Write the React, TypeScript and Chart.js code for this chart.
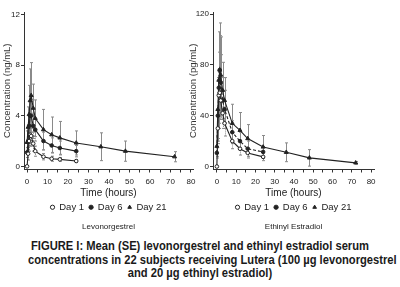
import React, { useEffect, useRef } from 'react';
import { Chart, registerables } from 'chart.js';

Chart.register(...registerables);

// Sampling times (hours after dose)
const HOURS = [0, 0.5, 1, 1.5, 2, 3, 4, 8, 12, 16, 24];
const HOURS_DAY21 = [0, 0.5, 1, 1.5, 2, 3, 4, 8, 12, 16, 24, 36, 48, 72];

// Axis ticks
const X_TICKS = [0, 5, 10, 15, 20, 25, 30, 35, 40, 45, 50, 55, 60, 65, 70, 75, 80];
const X_LABELED = [0, 10, 20, 30, 40, 50, 60, 70, 80];
const LNG_Y_TICKS = [0, 4, 8, 12];
const EE_Y_TICKS = [0, 40, 80, 120];

// Levonorgestrel, ng/mL (mean and SE)
const LNG_DAY1 = [0, 1.0, 2.0, 2.5, 2.4, 1.8, 1.2, 0.76, 0.6, 0.55, 0.42];
const LNG_DAY1_SE = [0, 0.5, 0.8, 0.9, 0.8, 0.6, 0.4, 0.25, 0.2, 0.15, 0.12];
const LNG_DAY6 = [1.1, 2.0, 3.2, 4.0, 4.0, 3.2, 2.9, 2.0, 1.65, 1.45, 1.2];
const LNG_DAY6_SE = [0.4, 0.8, 1.2, 1.3, 1.3, 1.0, 0.9, 0.7, 0.6, 0.55, 0.45];
const LNG_DAY21 = [1.9, 3.1, 4.1, 5.2, 5.6, 4.6, 3.8, 2.9, 2.5, 2.25, 1.85, 1.55, 1.2, 0.76];
const LNG_DAY21_SE = [0.9, 1.6, 2.3, 2.5, 2.6, 1.9, 1.45, 1.6, 1.4, 1.3, 0.95, 1.1, 0.8, 0.4];

// Ethinyl estradiol, pg/mL (mean and SE)
const EE_DAY1 = [0, 30, 56, 58, 52, 42, 34, 20, 14, 10.7, 7.6];
const EE_DAY1_SE = [0, 12, 18, 18, 15, 12, 10, 6, 5, 4, 3];
const EE_DAY6 = [10.7, 40, 62, 76, 66, 52, 45, 27, 20, 14, 11.5];
const EE_DAY6_SE = [4, 18, 28, 27, 22, 18, 15, 9, 7, 6, 4];
const EE_DAY21 = [16, 45, 68, 76, 72, 60, 52, 34, 28.5, 22, 15.4, 11.2, 6.8, 2.9];
const EE_DAY21_SE = [8, 25, 38, 37, 30, 22, 18, 15, 14, 11, 9, 7.4, 6.5, 1];

const SERIES_LABELS = ['Day 1', 'Day 6', 'Day 21'];

const CAPTION_LINES = [
  'FIGURE I: Mean (SE) levonorgestrel and ethinyl estradiol serum',
  'concentrations in 22 subjects receiving Lutera (100 µg levonorgestrel',
  'and 20 µg ethinyl estradiol)',
];

const INK = '#222';
const BAR = '#8a8a8a';
const FONT = "'Liberation Sans', Arial, Helvetica, sans-serif";

const toPoints = (xs: number[], ys: number[]) => ys.map((y, i) => ({ x: xs[i], y }));

// Vertical SE whiskers drawn underneath the lines
const errorBars = {
  id: 'errorBars',
  beforeDatasetsDraw(chart: any) {
    const { ctx, chartArea, scales } = chart;
    const xs = scales.x;
    const ys = scales.y;
    ctx.save();
    ctx.beginPath();
    ctx.rect(chartArea.left, chartArea.top, chartArea.right - chartArea.left, chartArea.bottom - chartArea.top);
    ctx.clip();
    chart.data.datasets.forEach((ds: any) => {
      if (!ds.se) return;
      ctx.strokeStyle = BAR;
      ctx.lineWidth = 1;
      ds.data.forEach((p: any, j: number) => {
        const e = ds.se[j];
        if (!e) return;
        const px = Math.round(xs.getPixelForValue(p.x)) + 0.5;
        const top = ys.getPixelForValue(p.y + e);
        const bot = ys.getPixelForValue(p.y - e);
        ctx.setLineDash(ds.seDash || []);
        ctx.beginPath();
        ctx.moveTo(px, top);
        ctx.lineTo(px, bot);
        ctx.stroke();
        ctx.setLineDash([]);
        ctx.beginPath();
        ctx.moveTo(px - 1.5, top);
        ctx.lineTo(px + 1.5, top);
        ctx.moveTo(px - 1.5, bot);
        ctx.lineTo(px + 1.5, bot);
        ctx.stroke();
      });
    });
    ctx.restore();
  },
};

type PanelSpec = {
  title: string;
  yTitle: string;
  yTicks: number[];
  yMin: number;
  yMax: number;
  xMin: number;
  xMax: number;
  yWidth: number;
  padRight: number;
  day1: number[];
  day1Se: number[];
  day6: number[];
  day6Se: number[];
  day6Dash: number[];
  day21: number[];
  day21Se: number[];
};

function buildConfig(s: PanelSpec): any {
  const line = { borderColor: INK, borderWidth: 1.1, pointBorderColor: INK, pointBorderWidth: 1, tension: 0 };
  return {
    type: 'line',
    data: {
      datasets: [
        {
          ...line,
          label: SERIES_LABELS[0],
          data: toPoints(HOURS, s.day1),
          se: s.day1Se,
          seDash: [1, 1],
          pointStyle: 'circle',
          pointRadius: 1.8,
          pointBackgroundColor: '#fff',
          backgroundColor: '#fff',
        },
        {
          ...line,
          label: SERIES_LABELS[1],
          data: toPoints(HOURS, s.day6),
          se: s.day6Se,
          seDash: [1, 1],
          borderDash: s.day6Dash,
          pointStyle: 'circle',
          pointRadius: 1.8,
          pointBackgroundColor: INK,
          backgroundColor: INK,
        },
        {
          ...line,
          label: SERIES_LABELS[2],
          data: toPoints(HOURS_DAY21, s.day21),
          se: s.day21Se,
          pointStyle: 'triangle',
          pointRadius: 2.3,
          pointBackgroundColor: INK,
          backgroundColor: INK,
        },
      ],
    },
    options: {
      responsive: false,
      animation: false,
      events: [],
      layout: { padding: { left: 0, top: 12, right: s.padRight, bottom: 0 } },
      scales: {
        x: {
          type: 'linear',
          min: s.xMin,
          max: s.xMax,
          afterBuildTicks: (scale: any) => {
            scale.ticks = X_TICKS.map((v) => ({ value: v }));
          },
          afterFit: (scale: any) => {
            scale.height = 28;
          },
          ticks: {
            autoSkip: false,
            maxRotation: 0,
            padding: 4,
            color: INK,
            font: { family: FONT, size: 8 },
            callback: (v: number) => (X_LABELED.includes(v) ? String(v) : ''),
          },
          grid: { display: true, drawOnChartArea: false, drawTicks: true, tickLength: 3, tickColor: '#333' },
          border: { display: true, color: '#333', width: 1 },
          title: {
            display: true,
            text: 'Time (hours)',
            color: INK,
            font: { family: FONT, size: 10, lineHeight: 1 },
            padding: { top: 0, bottom: -1 },
          },
        },
        y: {
          type: 'linear',
          min: s.yMin,
          max: s.yMax,
          afterBuildTicks: (scale: any) => {
            scale.ticks = s.yTicks.map((v) => ({ value: v }));
          },
          afterFit: (scale: any) => {
            scale.width = s.yWidth;
          },
          ticks: {
            padding: 1,
            color: INK,
            font: { family: FONT, size: 8 },
          },
          grid: { display: true, drawOnChartArea: false, drawTicks: true, tickLength: 3, tickColor: '#333' },
          border: { display: true, color: '#333', width: 1 },
          title: {
            display: true,
            text: s.yTitle,
            color: '#333',
            font: { family: FONT, size: 9.5, lineHeight: 1.2 },
            padding: { top: 1.5, bottom: 0 },
          },
        },
      },
      plugins: {
        legend: {
          display: true,
          position: 'bottom',
          fullSize: false,
          labels: {
            usePointStyle: true,
            boxWidth: 4,
            boxHeight: 3,
            padding: 5,
            color: INK,
            font: { family: FONT, size: 9.5 },
          },
        },
        title: {
          display: true,
          position: 'bottom',
          fullSize: false,
          text: s.title,
          color: INK,
          font: { family: FONT, size: 8, lineHeight: 1.25, weight: 'normal' },
          padding: { top: 0, bottom: 2 },
        },
        tooltip: { enabled: false },
      },
    },
    plugins: [errorBars],
  };
}

const LEFT: PanelSpec = {
  title: 'Levonorgestrel',
  yTitle: 'Concentration (ng/mL)',
  yTicks: LNG_Y_TICKS,
  yMin: -0.25,
  yMax: 12.2,
  xMin: -1.5,
  xMax: 81,
  yWidth: 24,
  padRight: 7,
  day1: LNG_DAY1,
  day1Se: LNG_DAY1_SE,
  day6: LNG_DAY6,
  day6Se: LNG_DAY6_SE,
  day6Dash: [],
  day21: LNG_DAY21,
  day21Se: LNG_DAY21_SE,
};

const RIGHT: PanelSpec = {
  title: 'Ethinyl Estradiol',
  yTitle: 'Concentration (pg/mL)',
  yTicks: EE_Y_TICKS,
  yMin: -2.35,
  yMax: 121.6,
  xMin: -2,
  xMax: 81.5,
  yWidth: 27,
  padRight: 26,
  day1: EE_DAY1,
  day1Se: EE_DAY1_SE,
  day6: EE_DAY6,
  day6Se: EE_DAY6_SE,
  day6Dash: [3, 2],
  day21: EE_DAY21,
  day21Se: EE_DAY21_SE,
};

function Panel({ spec, left, width }: { spec: PanelSpec; left: number; width: number }) {
  const ref = useRef<HTMLCanvasElement | null>(null);
  useEffect(() => {
    if (!ref.current) return;
    const chart = new Chart(ref.current, buildConfig(spec));
    return () => chart.destroy();
  }, [spec]);
  return (
    <canvas
      ref={ref}
      width={width}
      height={234}
      style={{ position: 'absolute', left, top: 0, width, height: 234 }}
    />
  );
}

export default function App() {
  return (
    <div
      style={{
        position: 'absolute',
        left: 0,
        top: 0,
        width: 400,
        height: 287,
        background: '#fff',
        overflow: 'hidden',
      }}
    >
      <Panel spec={LEFT} left={0} width={200} />
      <Panel spec={RIGHT} left={186} width={214} />
      <div
        style={{
          position: 'absolute',
          left: 0,
          top: 239,
          width: 400,
          textAlign: 'center',
          fontFamily: "'Liberation Sans', Arial, sans-serif",
          fontWeight: 'bold',
          fontSize: 13,
          lineHeight: '13.5px',
          color: '#1a1a1a',
          whiteSpace: 'nowrap',
          transform: 'scaleX(0.86)',
          transformOrigin: '200px 0',
        }}
      >
        {CAPTION_LINES.map((t) => (
          <div key={t}>{t}</div>
        ))}
      </div>
    </div>
  );
}
